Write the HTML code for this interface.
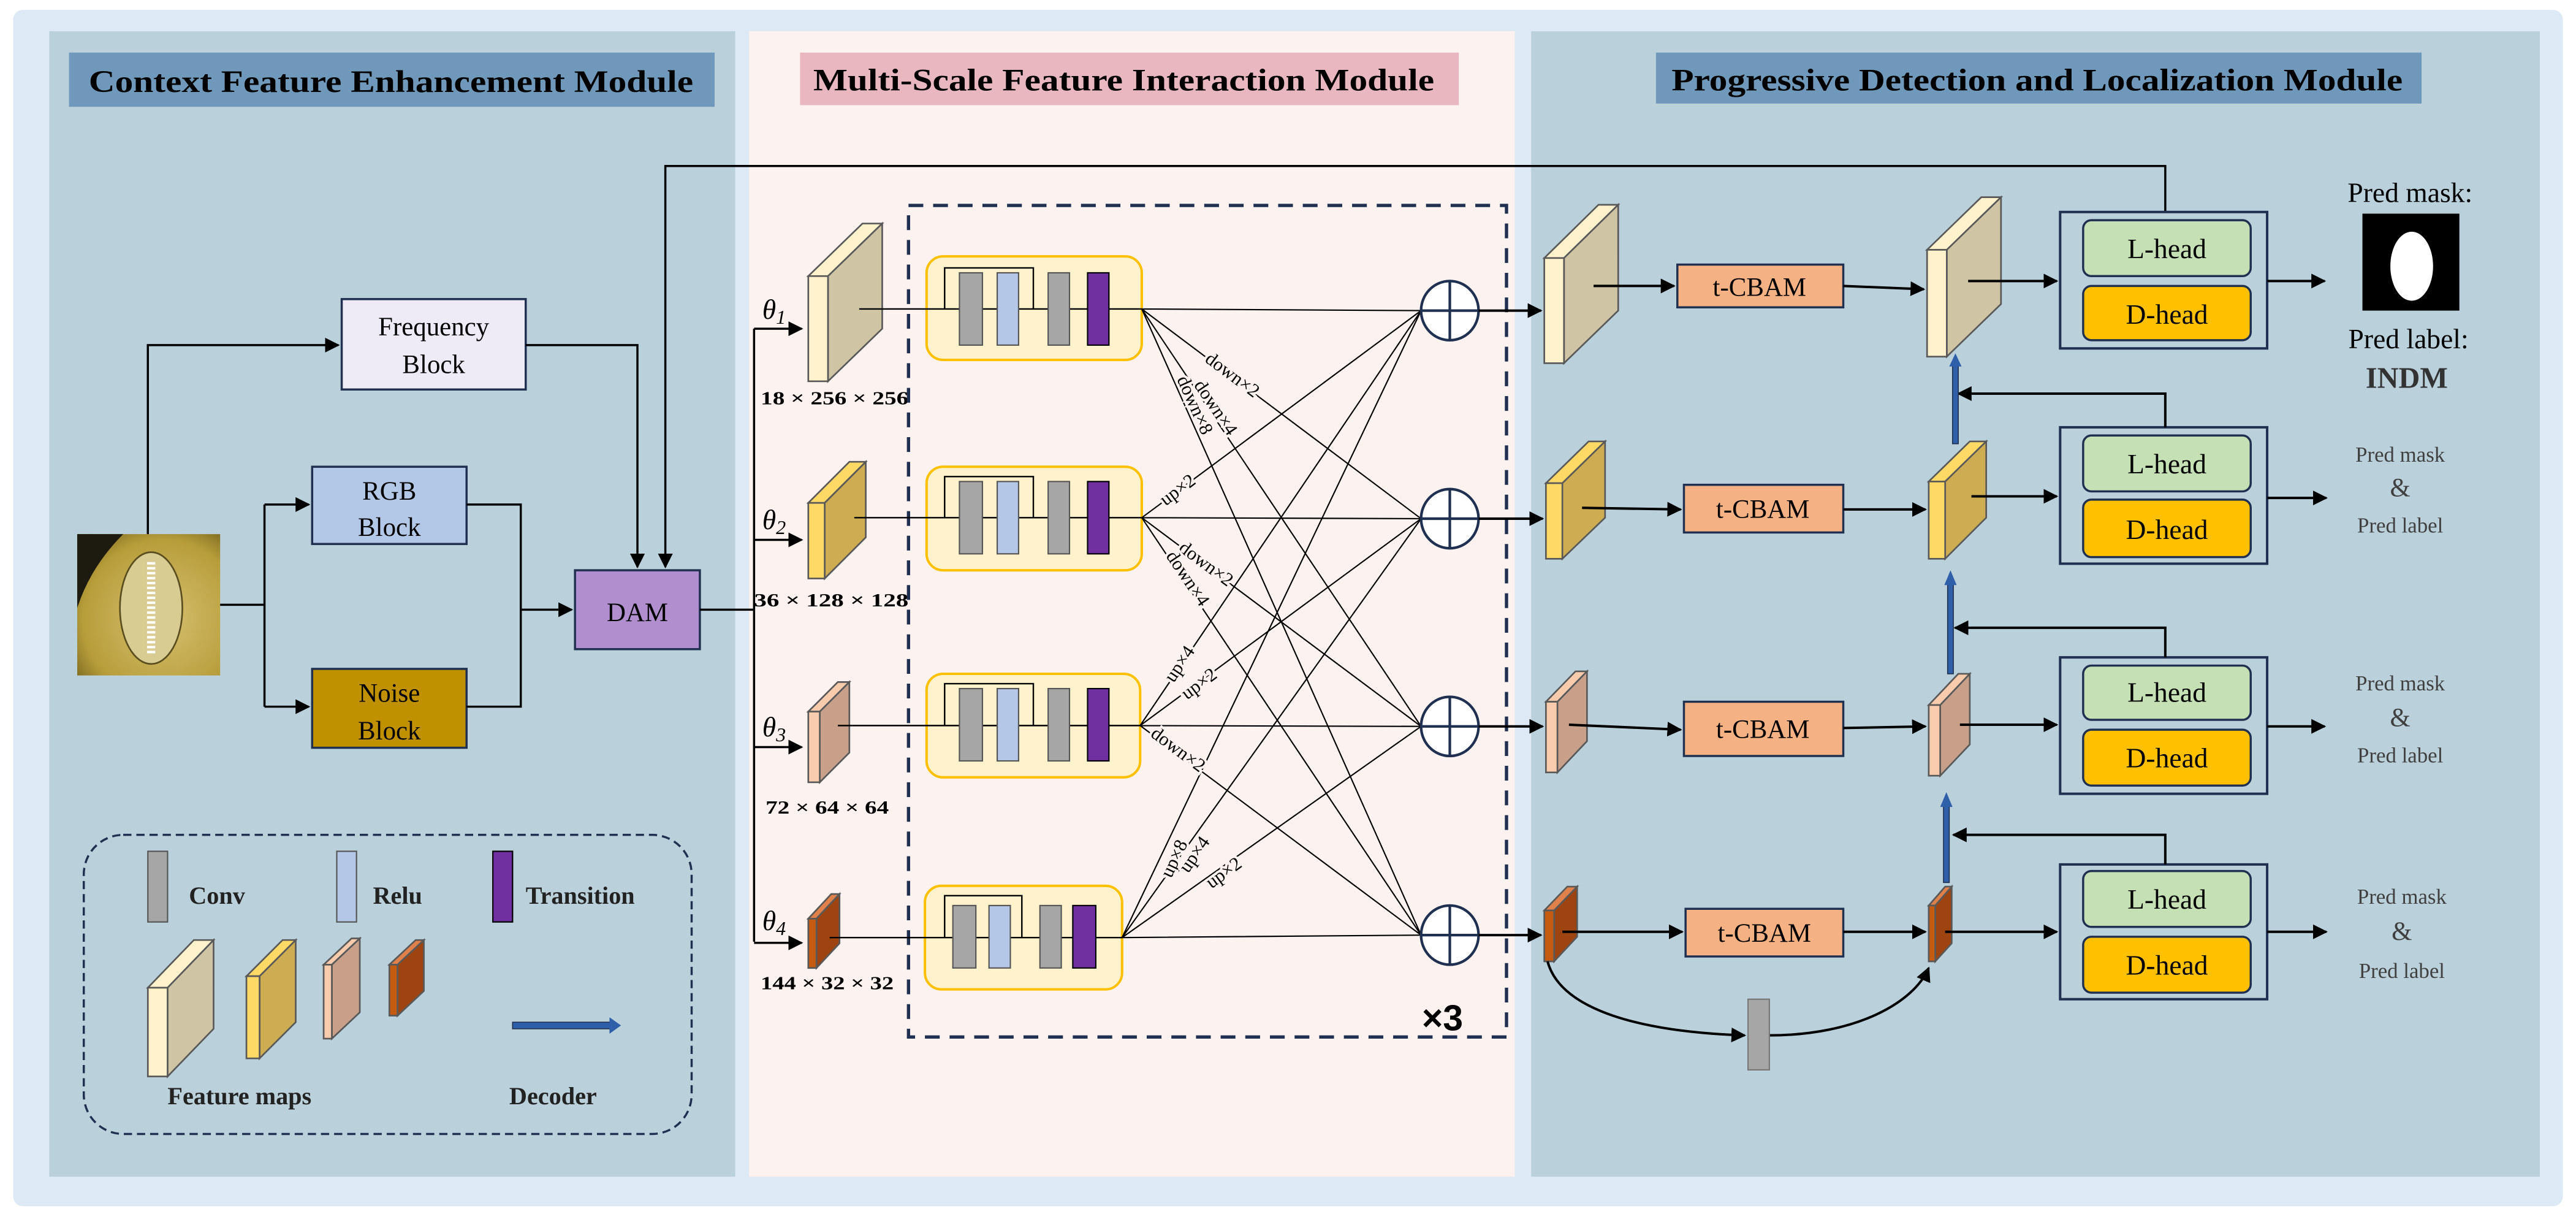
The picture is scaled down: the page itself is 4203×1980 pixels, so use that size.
<!DOCTYPE html>
<html><head><meta charset="utf-8"><style>
html,body{margin:0;padding:0;background:#fff;}
svg{display:block;}
</style></head><body>
<svg width="4203" height="1980" viewBox="0 0 1568 738.7" preserveAspectRatio="none" xmlns="http://www.w3.org/2000/svg" font-family="Liberation Serif, serif">
<defs>
<marker id="A" viewBox="0 0 10 10" refX="9" refY="5" markerWidth="9" markerHeight="9" orient="auto" markerUnits="userSpaceOnUse"><path d="M0,0 L10,5 L0,10 z" fill="#000"/></marker>
<radialGradient id="img" cx="0.6" cy="0.6" r="0.8"><stop offset="0" stop-color="#d6c070"/><stop offset="0.7" stop-color="#b79d3a"/><stop offset="1" stop-color="#6a5a1a"/></radialGradient>
</defs>
<rect x="0" y="0" width="1568" height="738.7" fill="#ffffff"/>
<rect x="8" y="6" width="1552" height="728" rx="6" fill="#dde9f5"/>
<rect x="30" y="19" width="417.5" height="697" fill="#bad1dc"/>
<rect x="456" y="19" width="466" height="697" fill="#fcf3f0"/>
<rect x="932" y="19" width="614" height="697" fill="#bad1dc"/>

<!-- titles -->
<rect x="42" y="32" width="393" height="33" fill="#6f98ba"/>
<text x="238" y="56" font-size="19" font-weight="bold" text-anchor="middle" textLength="368" lengthAdjust="spacingAndGlyphs">Context Feature Enhancement Module</text>
<rect x="487" y="32" width="401" height="32" fill="#e9b7bf"/>
<text x="684" y="55" font-size="19" font-weight="bold" text-anchor="middle" textLength="378" lengthAdjust="spacingAndGlyphs">Multi-Scale Feature Interaction Module</text>
<rect x="1008" y="32" width="466" height="31" fill="#6f98ba"/>
<text x="1240" y="55" font-size="19" font-weight="bold" text-anchor="middle" textLength="445" lengthAdjust="spacingAndGlyphs">Progressive Detection and Localization Module</text>

<!-- input image -->
<rect x="47" y="325" width="87" height="86" fill="url(#img)"/>
<path d="M47,325 L75,325 Q55,345 47,370 Z" fill="#1d1a10"/>
<ellipse cx="92" cy="370" rx="19" ry="34" fill="#d9cc93" stroke="#5a4e20" stroke-width="1"/>
<path d="M92,342 L92,398" stroke="#fff" stroke-width="5" stroke-dasharray="1.5 1.5"/>

<!-- left blocks -->
<rect x="208" y="182" width="112" height="55" fill="#eeebf6" stroke="#1f3050" stroke-width="1.3"/>
<text x="264" y="204" font-size="16" text-anchor="middle">Frequency</text>
<text x="264" y="227" font-size="16" text-anchor="middle">Block</text>
<rect x="190" y="284" width="94" height="47" fill="#b3c7e6" stroke="#1f3050" stroke-width="1.3"/>
<text x="237" y="304" font-size="16" text-anchor="middle">RGB</text>
<text x="237" y="326" font-size="16" text-anchor="middle">Block</text>
<rect x="190" y="407" width="94" height="48" fill="#bf9000" stroke="#1f3050" stroke-width="1.3"/>
<text x="237" y="427" font-size="16" text-anchor="middle">Noise</text>
<text x="237" y="450" font-size="16" text-anchor="middle">Block</text>
<rect x="350" y="347" width="76" height="48" fill="#b18fcf" stroke="#1f3050" stroke-width="1.3"/>
<text x="388" y="378" font-size="16" text-anchor="middle">DAM</text>

<g stroke="#000" stroke-width="1.3" fill="none">
<path d="M90,325 V210 H206" marker-end="url(#A)"/>
<path d="M134,368 H161"/>
<path d="M161,307 V430"/>
<path d="M161,307 H188" marker-end="url(#A)"/>
<path d="M161,430 H188" marker-end="url(#A)"/>
<path d="M284,307 H317 V430 H284"/>
<path d="M317,371 H348" marker-end="url(#A)"/>
<path d="M320,210 H388 V345" marker-end="url(#A)"/>
<path d="M1318,129 V101 H405 V345" marker-end="url(#A)"/>
<path d="M426,371 H459"/>
<path d="M459,200 V573"/>
<path d="M459,200 H488" marker-end="url(#A)"/>
<path d="M459,328.5 H488" marker-end="url(#A)"/>
<path d="M459,454.6 H488" marker-end="url(#A)"/>
<path d="M459,573.7 H488" marker-end="url(#A)"/>
</g>

<!-- theta labels -->
<g font-size="17" font-style="italic">
<text x="464" y="194">θ<tspan font-size="12" dy="3">1</tspan></text>
<text x="464" y="322">θ<tspan font-size="12" dy="3">2</tspan></text>
<text x="464" y="448">θ<tspan font-size="12" dy="3">3</tspan></text>
<text x="464" y="566">θ<tspan font-size="12" dy="3">4</tspan></text>
</g>
<g font-size="11.5" font-weight="bold">
<text x="463" y="246" textLength="90" lengthAdjust="spacingAndGlyphs">18 × 256 × 256</text>
<text x="459" y="369" textLength="94" lengthAdjust="spacingAndGlyphs">36 × 128 × 128</text>
<text x="466" y="495" textLength="75" lengthAdjust="spacingAndGlyphs">72 × 64 × 64</text>
<text x="463" y="602" textLength="81" lengthAdjust="spacingAndGlyphs">144 × 32 × 32</text>
</g>

<!-- feature maps (middle) -->
<g stroke="#595959" stroke-width="1">
<polygon points="492,168 525,136 537,136 504,168" fill="#fff2cc"/><polygon points="504,168 537,136 537,200 504,232" fill="#cfc4a4"/><rect x="492" y="168" width="12" height="64" fill="#fff2cc"/>
<polygon points="492,306 517,281 527,281 502,306" fill="#ffd966"/><polygon points="502,306 527,281 527,327 502,352" fill="#cdac52"/><rect x="492" y="306" width="10" height="46" fill="#ffd966"/>
<polygon points="492,433 510,415 517,415 499,433" fill="#f8cbad"/><polygon points="499,433 517,415 517,458 499,476" fill="#c8a08a"/><rect x="492" y="433" width="7" height="43" fill="#f8cbad"/>
<polygon points="492,559 506,544 511,544 497,559" fill="#e0804a"/><polygon points="497,559 511,544 511,574 497,589" fill="#9e4410"/><rect x="492" y="559" width="5" height="30" fill="#c55a11"/>
</g>

<!-- dashed box -->
<rect x="553" y="125" width="364" height="506" fill="none" stroke="#1f3050" stroke-width="2" stroke-dasharray="9 6"/>
<text x="878" y="627" font-family="Liberation Sans, sans-serif" font-size="22" font-weight="bold" text-anchor="middle">×3</text>

<!-- blocks in middle -->
<g>
<rect x="564" y="156" width="131" height="63" rx="10" fill="#fff2cc" stroke="#ffc000" stroke-width="1.5"/>
<rect x="564" y="284" width="131" height="63" rx="10" fill="#fff2cc" stroke="#ffc000" stroke-width="1.5"/>
<rect x="564" y="410" width="130" height="63" rx="10" fill="#fff2cc" stroke="#ffc000" stroke-width="1.5"/>
<rect x="563" y="539" width="120" height="63" rx="10" fill="#fff2cc" stroke="#ffc000" stroke-width="1.5"/>
</g>
<g stroke="#000" stroke-width="0.9" fill="none">
<path d="M523,188 H695"/><path d="M575,188 V163 H629 V188"/>
<path d="M520,315 H695"/><path d="M575,315 V290 H629 V315"/>
<path d="M510,441.5 H694"/><path d="M575,441.5 V416 H629 V441.5"/>
<path d="M505,570.5 H683"/><path d="M575,570.5 V545 H622 V570.5"/>
</g>
<g stroke="#555" stroke-width="0.8">
<rect x="584" y="166" width="14" height="44" fill="#a6a6a6"/><rect x="607" y="166" width="13" height="44" fill="#b4c7e7"/><rect x="638" y="166" width="13" height="44" fill="#a6a6a6"/><rect x="662" y="166" width="13" height="44" fill="#7030a0" stroke="#000"/>
<rect x="584" y="293" width="14" height="44" fill="#a6a6a6"/><rect x="607" y="293" width="13" height="44" fill="#b4c7e7"/><rect x="638" y="293" width="13" height="44" fill="#a6a6a6"/><rect x="662" y="293" width="13" height="44" fill="#7030a0" stroke="#000"/>
<rect x="584" y="419" width="14" height="44" fill="#a6a6a6"/><rect x="607" y="419" width="13" height="44" fill="#b4c7e7"/><rect x="638" y="419" width="13" height="44" fill="#a6a6a6"/><rect x="662" y="419" width="13" height="44" fill="#7030a0" stroke="#000"/>
<rect x="580" y="551" width="14" height="38" fill="#a6a6a6"/><rect x="602" y="551" width="13" height="38" fill="#b4c7e7"/><rect x="633" y="551" width="13" height="38" fill="#a6a6a6"/><rect x="653" y="551" width="14" height="38" fill="#7030a0" stroke="#000"/>
</g>

<!-- cross lines -->
<g stroke="#000" stroke-width="0.8">
<path d="M695,188 L865,189 M695,188 L865,315.6 M695,188 L865,442 M695,188 L865,569"/>
<path d="M695,315 L865,189 M695,315 L865,315.6 M695,315 L865,442 M695,315 L865,569"/>
<path d="M694,441.5 L865,189 M694,441.5 L865,315.6 M694,441.5 L865,442 M694,441.5 L865,569"/>
<path d="M683,570.5 L865,189 M683,570.5 L865,315.6 M683,570.5 L865,442 M683,570.5 L865,569"/>
</g>
<g font-size="11.5" text-anchor="middle" stroke="#fcf3f0" stroke-width="3" paint-order="stroke" fill="#000">
<text transform="translate(748,231) rotate(36.8)">down×2</text>
<text transform="translate(737,250) rotate(56.1)">down×4</text>
<text transform="translate(724,248) rotate(65.8)">down×8</text>
<text transform="translate(719,301) rotate(-36.8)">up×2</text>
<text transform="translate(732,346) rotate(36.6)">down×2</text>
<text transform="translate(720,354) rotate(56)">down×4</text>
<text transform="translate(721,406) rotate(-56.1)">up×4</text>
<text transform="translate(732,419) rotate(-36.6)">up×2</text>
<text transform="translate(715,459) rotate(36.6)">down×2</text>
<text transform="translate(718,524) rotate(-64.5)">up×8</text>
<text transform="translate(730,522) rotate(-55)">up×4</text>
<text transform="translate(747,534) rotate(-36)">up×2</text>
</g>

<!-- circles -->
<g stroke="#1f3050" stroke-width="1.6" fill="#fff">
<ellipse cx="882.5" cy="189" rx="17.5" ry="18"/><path d="M865,189 H900 M882.5,171 V207" fill="none"/>
<ellipse cx="882.5" cy="315.6" rx="17.5" ry="18"/><path d="M865,315.6 H900 M882.5,297.6 V333.6" fill="none"/>
<ellipse cx="882.5" cy="442" rx="17.5" ry="18"/><path d="M865,442 H900 M882.5,424 V460" fill="none"/>
<ellipse cx="882.5" cy="569" rx="17.5" ry="18"/><path d="M865,569 H900 M882.5,551 V587" fill="none"/>
</g>

<!-- right panel feature maps -->
<g stroke="#595959" stroke-width="1">
<polygon points="940,157 973,124.6 985,124.6 952,157" fill="#fff2cc"/><polygon points="952,157 985,124.6 985,189 952,221" fill="#cfc4a4"/><rect x="940" y="157" width="12" height="64" fill="#fff2cc"/>
<polygon points="1173,152 1206,120 1218,120 1185,152" fill="#fff2cc"/><polygon points="1185,152 1218,120 1218,185 1185,217" fill="#cfc4a4"/><rect x="1173" y="152" width="12" height="65" fill="#fff2cc"/>
<polygon points="941,294 967,268.6 977,268.6 951,294" fill="#ffd966"/><polygon points="951,294 977,268.6 977,315 951,340" fill="#cdac52"/><rect x="941" y="294" width="10" height="46" fill="#ffd966"/>
<polygon points="1174,293 1199,268.6 1209,268.6 1184,293" fill="#ffd966"/><polygon points="1184,293 1209,268.6 1209,315 1184,340" fill="#cdac52"/><rect x="1174" y="293" width="10" height="47" fill="#ffd966"/>
<polygon points="941,427 959,408.5 966,408.5 948,427" fill="#f8cbad"/><polygon points="948,427 966,408.5 966,451 948,470" fill="#c8a08a"/><rect x="941" y="427" width="7" height="43" fill="#f8cbad"/>
<polygon points="1174,429 1192,410 1199,410 1181,429" fill="#f8cbad"/><polygon points="1181,429 1199,410 1199,453 1181,472" fill="#c8a08a"/><rect x="1174" y="429" width="7" height="43" fill="#f8cbad"/>
<polygon points="940,554 954,539.5 960,539.5 946,554" fill="#e0804a"/><polygon points="946,554 960,539.5 960,570 946,585" fill="#9e4410"/><rect x="940" y="554" width="6" height="31" fill="#c55a11"/>
<polygon points="1174,551 1184,539.5 1188,539.5 1178,551" fill="#e0804a"/><polygon points="1178,551 1188,539.5 1188,574 1178,585" fill="#9e4410"/><rect x="1174" y="551" width="4" height="34" fill="#c55a11"/>
</g>

<!-- t-CBAM -->
<g stroke="#1f3050" stroke-width="1.3" fill="#f4b183">
<rect x="1021" y="161" width="101" height="26"/>
<rect x="1025" y="295" width="97" height="29"/>
<rect x="1025" y="427" width="97" height="33"/>
<rect x="1026" y="553" width="96" height="29"/>
</g>
<g font-size="16" text-anchor="middle">
<text x="1071" y="180">t-CBAM</text>
<text x="1073" y="315">t-CBAM</text>
<text x="1073" y="449">t-CBAM</text>
<text x="1074" y="573">t-CBAM</text>
</g>

<!-- heads -->
<g>
<rect x="1254" y="129" width="126" height="83" fill="none" stroke="#1f3050" stroke-width="1.5"/>
<rect x="1268" y="134" width="102" height="34" rx="5" fill="#c5e0b4" stroke="#1f3050" stroke-width="1.3"/>
<rect x="1268" y="174" width="102" height="33" rx="5" fill="#ffc000" stroke="#1f3050" stroke-width="1.3"/>
<rect x="1254" y="260" width="126" height="83" fill="none" stroke="#1f3050" stroke-width="1.5"/>
<rect x="1268" y="265" width="102" height="34" rx="5" fill="#c5e0b4" stroke="#1f3050" stroke-width="1.3"/>
<rect x="1268" y="304" width="102" height="35" rx="5" fill="#ffc000" stroke="#1f3050" stroke-width="1.3"/>
<rect x="1254" y="400" width="126" height="83" fill="none" stroke="#1f3050" stroke-width="1.5"/>
<rect x="1268" y="405" width="102" height="33" rx="5" fill="#c5e0b4" stroke="#1f3050" stroke-width="1.3"/>
<rect x="1268" y="444" width="102" height="34" rx="5" fill="#ffc000" stroke="#1f3050" stroke-width="1.3"/>
<rect x="1254" y="526" width="126" height="82" fill="none" stroke="#1f3050" stroke-width="1.5"/>
<rect x="1268" y="530" width="102" height="34" rx="5" fill="#c5e0b4" stroke="#1f3050" stroke-width="1.3"/>
<rect x="1268" y="570" width="102" height="34" rx="5" fill="#ffc000" stroke="#1f3050" stroke-width="1.3"/>
</g>
<g font-size="17" text-anchor="middle">
<text x="1319" y="157">L-head</text><text x="1319" y="197">D-head</text>
<text x="1319" y="288">L-head</text><text x="1319" y="328">D-head</text>
<text x="1319" y="427">L-head</text><text x="1319" y="467">D-head</text>
<text x="1319" y="553">L-head</text><text x="1319" y="593">D-head</text>
</g>

<!-- right arrows -->
<g stroke="#000" stroke-width="1.5" fill="none">
<path d="M900,189 H938" marker-end="url(#A)"/>
<path d="M900,315.6 H939" marker-end="url(#A)"/>
<path d="M900,442 H939" marker-end="url(#A)"/>
<path d="M900,569 H938" marker-end="url(#A)"/>
<path d="M970,174 H1019" marker-end="url(#A)"/>
<path d="M1122,174 L1171,176" marker-end="url(#A)"/>
<path d="M1198,171 H1252" marker-end="url(#A)"/>
<path d="M1380,171 H1415" marker-end="url(#A)"/>
<path d="M963,309 L1023,310" marker-end="url(#A)"/>
<path d="M1122,310 H1172" marker-end="url(#A)"/>
<path d="M1200,302 H1252" marker-end="url(#A)"/>
<path d="M1380,303 H1416" marker-end="url(#A)"/>
<path d="M955,441 L1023,444" marker-end="url(#A)"/>
<path d="M1122,443 L1172,442" marker-end="url(#A)"/>
<path d="M1193,441 L1252,441" marker-end="url(#A)"/>
<path d="M1380,442 H1415" marker-end="url(#A)"/>
<path d="M951,567 H1024" marker-end="url(#A)"/>
<path d="M1122,567 L1172,567" marker-end="url(#A)"/>
<path d="M1184,567 H1252" marker-end="url(#A)"/>
<path d="M1380,567 H1416" marker-end="url(#A)"/>
<path d="M1318,260 V239.5 H1192" marker-end="url(#A)"/>
<path d="M1318,400 V382 H1190" marker-end="url(#A)"/>
<path d="M1318,526 V508 H1189" marker-end="url(#A)"/>
<path d="M942,585 C950,615 1000,628 1062,630" marker-end="url(#A)"/>
<path d="M1077,630 C1130,630 1165,610 1174,589" marker-end="url(#A)"/>
</g>
<rect x="1064" y="608" width="13" height="43" fill="#a6a6a6" stroke="#777" stroke-width="0.8"/>

<!-- decoder arrows (blue) -->
<g>
<rect x="1188.5" y="222" width="3.5" height="48" fill="#2e5fa8" stroke="#1f3050" stroke-width="0.6"/><path d="M1186.5,223 L1190.25,215 L1194,223 Z" fill="#2e5fa8"/>
<rect x="1185.5" y="355" width="3.5" height="55" fill="#2e5fa8" stroke="#1f3050" stroke-width="0.6"/><path d="M1183.5,356 L1187.25,347 L1191,356 Z" fill="#2e5fa8"/>
<rect x="1183" y="490" width="3.5" height="47" fill="#2e5fa8" stroke="#1f3050" stroke-width="0.6"/><path d="M1181,491 L1184.75,482 L1188.5,491 Z" fill="#2e5fa8"/>
</g>

<!-- outputs -->
<text x="1467" y="123" font-size="17" text-anchor="middle">Pred mask:</text>
<rect x="1438" y="130" width="59" height="59" fill="#000"/>
<ellipse cx="1468" cy="162" rx="13" ry="21" fill="#fff"/>
<text x="1466" y="212" font-size="17" text-anchor="middle">Pred label:</text>
<text x="1465" y="236" font-size="18" font-weight="bold" text-anchor="middle" fill="#333">INDM</text>
<g font-size="13" text-anchor="middle" fill="#404040">
<text x="1461" y="281">Pred mask</text><text x="1461" y="302" font-size="16">&amp;</text><text x="1461" y="324">Pred label</text>
<text x="1461" y="420">Pred mask</text><text x="1461" y="442" font-size="16">&amp;</text><text x="1461" y="464">Pred label</text>
<text x="1462" y="550">Pred mask</text><text x="1462" y="572" font-size="16">&amp;</text><text x="1462" y="595">Pred label</text>
</g>

<!-- legend -->
<rect x="51" y="508" width="370" height="182" rx="24" fill="none" stroke="#1f3050" stroke-width="1.3" stroke-dasharray="5 3"/>
<g stroke="#555" stroke-width="0.8">
<rect x="90" y="518" width="12" height="43" fill="#a6a6a6"/>
<rect x="205" y="518" width="12" height="43" fill="#b4c7e7"/>
<rect x="300" y="518" width="12" height="43" fill="#7030a0" stroke="#000"/>
</g>
<g font-size="15" font-weight="bold" fill="#222">
<text x="115" y="550">Conv</text>
<text x="227" y="550">Relu</text>
<text x="320" y="550">Transition</text>
<text x="102" y="672">Feature maps</text>
<text x="310" y="672">Decoder</text>
</g>
<g stroke="#595959" stroke-width="1">
<polygon points="90,601 118,572 130,572 102,601" fill="#fff2cc"/><polygon points="102,601 130,572 130,626 102,655" fill="#cfc4a4"/><rect x="90" y="601" width="12" height="54" fill="#fff2cc"/>
<polygon points="150,594 172,572 180,572 158,594" fill="#ffd966"/><polygon points="158,594 180,572 180,622 158,644" fill="#cdac52"/><rect x="150" y="594" width="8" height="50" fill="#ffd966"/>
<polygon points="197,587 214,571 219,571 202,587" fill="#f8cbad"/><polygon points="202,587 219,571 219,616 202,632" fill="#c8a08a"/><rect x="197" y="587" width="5" height="45" fill="#f8cbad"/>
<polygon points="237,587 253,572 258,572 242,587" fill="#e0804a"/><polygon points="242,587 258,572 258,603 242,618" fill="#9e4410"/><rect x="237" y="587" width="5" height="31" fill="#c55a11"/>
</g>
<rect x="312" y="622" width="60" height="4" fill="#2e5fa8" stroke="#1f3050" stroke-width="0.6"/>
<path d="M371,619 L378,624 L371,629 Z" fill="#2e5fa8"/>
</svg>
</body></html>
